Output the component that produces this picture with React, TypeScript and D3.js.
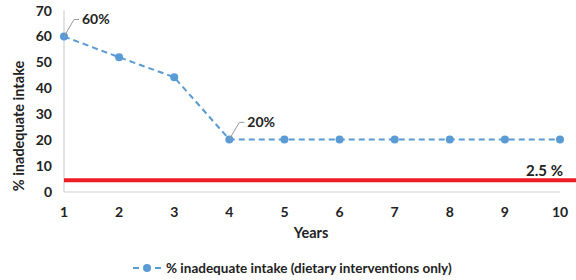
import React, { useRef, useEffect } from 'react';
import * as d3 from 'd3';

const years = [1, 2, 3, 4, 5, 6, 7, 8, 9, 10];
const inadequate = [60, 52, 44.3, 20.3, 20.3, 20.3, 20.3, 20.3, 20.3, 20.3];
const yTicks = [0, 10, 20, 30, 40, 50, 60, 70];
const thresholdValue = 4.5;
const thresholdLabel = '2.5 %';
const pointLabels = [
  { idx: 0, text: '60%' },
  { idx: 3, text: '20%' },
];

const App = () => {
  const ref = useRef<SVGSVGElement>(null);

  useEffect(() => {
    const svg = d3.select(ref.current);
    svg.selectAll('*').remove();

    const width = 576;
    const font = 'Lato, "Open Sans", sans-serif';

    const x = d3.scaleLinear().domain([1, 10]).range([64, 560]);
    const y = d3.scaleLinear().domain([0, 70]).range([192, 10.6]);

    // axes lines (no ticks)
    svg.append('line')
      .attr('x1', x(1)).attr('x2', x(1))
      .attr('y1', y(70)).attr('y2', y(0))
      .attr('stroke', '#d0d0d0').attr('stroke-width', 1.2);
    svg.append('line')
      .attr('x1', x(1)).attr('x2', x(10))
      .attr('y1', y(0)).attr('y2', y(0))
      .attr('stroke', '#d0d0d0').attr('stroke-width', 1.2);

    svg.append('g')
      .selectAll('text')
      .data(yTicks)
      .enter()
      .append('text')
      .attr('x', 52)
      .attr('y', d => y(d))
      .attr('dy', '0.35em')
      .attr('text-anchor', 'end')
      .attr('font-family', font)
      .attr('font-weight', 'bold')
      .attr('font-size', 14)
      .attr('fill', '#222')
      .text(d => d);

    svg.append('g')
      .selectAll('text')
      .data(years)
      .enter()
      .append('text')
      .attr('x', d => x(d))
      .attr('y', 212)
      .attr('dy', '0.35em')
      .attr('text-anchor', 'middle')
      .attr('font-family', font)
      .attr('font-weight', 'bold')
      .attr('font-size', 14)
      .attr('fill', '#222')
      .text(d => d);

    // threshold line
    svg.append('line')
      .attr('x1', x(1)).attr('x2', width)
      .attr('y1', y(thresholdValue)).attr('y2', y(thresholdValue))
      .attr('stroke', '#ee1c25').attr('stroke-width', 4);
    svg.append('text')
      .attr('x', 563)
      .attr('y', 171)
      .attr('dy', '0.35em')
      .attr('text-anchor', 'end')
      .attr('font-family', font)
      .attr('font-weight', 'bold')
      .attr('font-size', 15)
      .attr('fill', '#222')
      .text(thresholdLabel);

    // series
    const line = d3.line<number>()
      .x((d, i) => x(years[i]))
      .y(d => y(d));
    svg.append('path')
      .datum(inadequate)
      .attr('d', line)
      .attr('fill', 'none')
      .attr('stroke', '#5b9bd5')
      .attr('stroke-width', 2)
      .attr('stroke-dasharray', '6,4');
    svg.append('g')
      .selectAll('circle')
      .data(inadequate)
      .enter()
      .append('circle')
      .attr('cx', (d, i) => x(years[i]))
      .attr('cy', d => y(d))
      .attr('r', 4)
      .attr('fill', '#5b9bd5');

    // data labels with leader lines
    pointLabels.forEach(p => {
      const px = x(years[p.idx]);
      const py = y(inadequate[p.idx]);
      svg.append('path')
        .attr('d', `M${px},${py} L${px + 10},${py - 17} L${px + 15},${py - 17}`)
        .attr('fill', 'none')
        .attr('stroke', '#999')
        .attr('stroke-width', 1);
      svg.append('text')
        .attr('x', px + 18)
        .attr('y', py - 17)
        .attr('dy', '0.35em')
        .attr('font-family', font)
        .attr('font-weight', 'bold')
        .attr('font-size', 14)
        .attr('fill', '#222')
        .text(p.text);
    });

    // axis titles
    svg.append('text')
      .attr('x', 311)
      .attr('y', 233)
      .attr('dy', '0.35em')
      .attr('text-anchor', 'middle')
      .attr('font-family', font)
      .attr('font-weight', 'bold')
      .attr('font-size', 14.5)
      .attr('fill', '#222')
      .text('Years');
    svg.append('text')
      .attr('transform', `translate(19,${126}) rotate(-90)`)
      .attr('dy', '0.35em')
      .attr('text-anchor', 'middle')
      .attr('font-family', font)
      .attr('font-weight', 'bold')
      .attr('font-size', 14.5)
      .attr('fill', '#222')
      .text('% inadequate intake');

    // legend
    const lg = svg.append('g').attr('transform', 'translate(133,268)');
    lg.append('line')
      .attr('x1', 0).attr('x2', 28).attr('y1', 0).attr('y2', 0)
      .attr('stroke', '#5b9bd5').attr('stroke-width', 2)
      .attr('stroke-dasharray', '6,5');
    lg.append('circle').attr('cx', 14).attr('cy', 0).attr('r', 4).attr('fill', '#5b9bd5');
    lg.append('text')
      .attr('x', 33)
      .attr('y', 0)
      .attr('dy', '0.35em')
      .attr('font-family', font)
      .attr('font-weight', 'bold')
      .attr('font-size', 13.5)
      .attr('fill', '#222')
      .text('% inadequate intake (dietary interventions only)');
  }, []);

  return (
    <svg
      ref={ref}
      width={576}
      height={280}
      style={{ position: 'absolute', left: 0, top: 0, background: '#fff' }}
    />
  );
};

export default App;
